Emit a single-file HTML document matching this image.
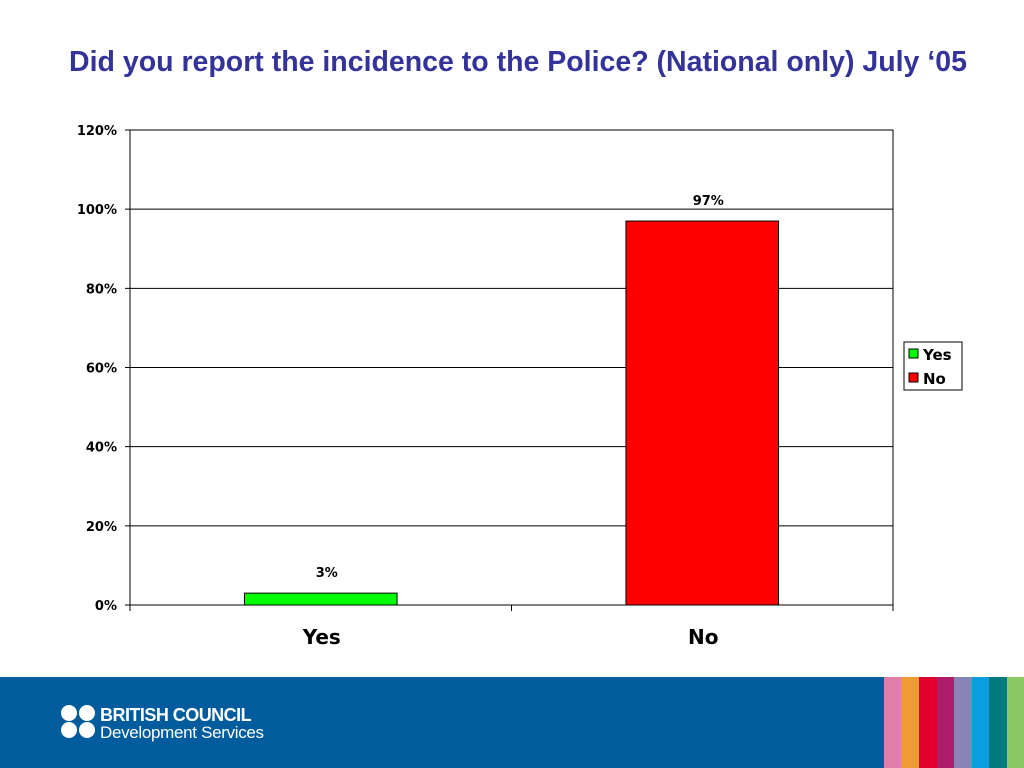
<!DOCTYPE html>
<html><head><meta charset="utf-8"><style>
body{margin:0;width:1024px;height:768px;background:#fff;position:relative;overflow:hidden;font-family:"Liberation Sans",Arial,sans-serif}
#title{position:absolute;left:0;width:1036px;top:46px;text-align:center;color:#333399;font-weight:bold;font-size:28.5px}
#footer{position:absolute;left:0;top:677px;width:1024px;height:91px;background:#005c9c}
.st{position:absolute;top:0;height:91px}
</style></head><body>
<div id="title">Did you report the incidence to the Police? (National only) July ‘05</div>
<svg id="chart" width="1024" height="677" style="position:absolute;left:0;top:0" font-family="DejaVu Sans, Verdana, sans-serif"></svg>
<div id="footer">
<svg width="260" height="60" style="position:absolute;left:58px;top:22px">
<circle cx="11" cy="14" r="8" fill="#fff"/><circle cx="29" cy="14" r="8" fill="#fff"/>
<circle cx="11" cy="31" r="8" fill="#fff"/><circle cx="29" cy="31" r="8" fill="#fff"/>
<text x="42" y="22" fill="#fff" font-size="18" font-weight="bold" font-family="Liberation Sans, sans-serif" letter-spacing="-0.6" textLength="151">BRITISH COUNCIL</text>
<text x="42" y="39" fill="#fff" font-size="17" font-family="Liberation Sans, sans-serif" textLength="164">Development Services</text>
</svg>
<div class="st" style="left:884px;width:17px;background:#df7fa6"></div>
<div class="st" style="left:901px;width:18px;background:#ef9a35"></div>
<div class="st" style="left:919px;width:18px;background:#e2002c"></div>
<div class="st" style="left:937px;width:17px;background:#b01c6c"></div>
<div class="st" style="left:954px;width:18px;background:#8585b8"></div>
<div class="st" style="left:972px;width:17px;background:#0a9ede"></div>
<div class="st" style="left:989px;width:18px;background:#007a7a"></div>
<div class="st" style="left:1007px;width:17px;background:#8cc862"></div>
</div>
<script>
const categories=["Yes","No"];
const values=[3,97];
const colors=["#00ff00","#ff0000"];
const ticks=[0,20,40,60,80,100,120];
const svg=document.getElementById('chart');
const NS='http://www.w3.org/2000/svg';
const X0=130,X1=893,Y0=605,Y1=130,YMAX=120;
const y=v=>Y0-(v/YMAX)*(Y0-Y1);
const cw=(X1-X0)/categories.length;
const xc=i=>X0+cw*(i+0.5);
function mk(t,a){const e=document.createElementNS(NS,t);for(const k in a)e.setAttribute(k,a[k]);svg.appendChild(e);return e;}
ticks.forEach(t=>{
 const g=mk('line',{x1:X0-5,x2:t===0?X0:X1,y1:y(t),y2:y(t),stroke:'#000','stroke-width':1});
 
 
 const l=mk('text',{x:X0-13,y:y(t)+5,'text-anchor':'end','font-size':13,'font-weight':'bold'});
 l.textContent=t+'%';
 
 
});
const fr=mk('rect',{x:X0,y:Y1,width:X1-X0,height:Y0-Y1,fill:'none',stroke:'#000'});


for(let i=0;i<=categories.length;i++){const t=mk('line',{x1:X0+cw*i,x2:X0+cw*i,y1:Y0,y2:Y0+6,stroke:'#000'});
 
 }
categories.forEach((c,i)=>{
 const bw=cw*0.4;
 const b=mk('rect',{x:xc(i)-bw/2,y:y(values[i]),width:bw,height:Y0-y(values[i]),fill:colors[i],stroke:'#000','stroke-width':1});
 
 
 const v=mk('text',{x:xc(i)+6,y:y(values[i])-16,'text-anchor':'middle','font-size':13,'font-weight':'bold'});
 v.textContent=values[i]+'%';
 
 
 const l=mk('text',{x:xc(i)+1,y:644,'text-anchor':'middle','font-size':20,'font-weight':'bold'});
 l.textContent=c;
 
 
});
const lg=mk('rect',{x:904,y:342,width:58,height:48,fill:'#fff',stroke:'#000'});


categories.forEach((c,i)=>{
 const s=mk('rect',{x:909,y:349+i*24,width:9,height:9,fill:colors[i],stroke:'#000'});
 
 
 const t=mk('text',{x:923,y:360+i*24,'font-size':15,'font-weight':'bold'});
 t.textContent=c;
 
 
});
</script>
</body></html>
